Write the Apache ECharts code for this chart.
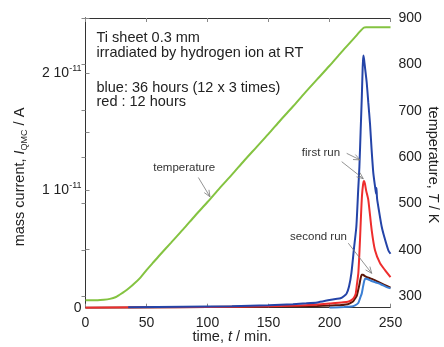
<!DOCTYPE html>
<html><head><meta charset="utf-8">
<script src="https://cdn.jsdelivr.net/npm/echarts@6/dist/echarts.min.js"></script>
<style>html,body{margin:0;padding:0;background:#fff}#c{width:444px;height:347px}</style>
</head><body><div id="c"></div>
<script>
const FONT = '"Liberation Sans", Arial, Helvetica, sans-serif';

// ---- data (current in units of 1e-11 A) ----
const timeTicks = [0, 50, 100, 150, 200, 250];
const currentTicks = [0, 1, 2];
const tempTicks = [300, 400, 500, 600, 700, 800, 900];

const tempTime = [0, 10, 15, 20, 25, 28, 32, 36, 40, 45, 50, 55, 60, 70, 80, 90, 100, 110, 120, 130, 140, 150, 160, 170, 180, 190, 200, 210, 220, 225, 228, 230, 240, 250];
const tempK    = [291, 291, 292, 294, 298, 303, 310, 318, 327, 340, 356, 371, 386, 415, 444, 474, 503, 533, 562, 592, 621, 650, 680, 709, 739, 768, 797, 827, 856, 871, 879, 880, 880, 880];

const blue1Time = [35, 80, 120, 150, 170, 181, 190, 200, 205, 209, 212, 214, 216, 218, 220, 222, 223.5, 224.5, 225.5, 226.5, 227.2, 227.7, 228.3, 229.3, 230.5, 231.8, 233.2, 234.5, 235.9, 237.5, 238.2, 238.5, 239, 240.5, 242.8, 245, 248.2, 250];
const blue1Cur  = [0.003, 0.008, 0.012, 0.02, 0.03, 0.037, 0.045, 0.066, 0.075, 0.08, 0.1, 0.12, 0.18, 0.3, 0.5, 0.69, 1.0, 1.2, 1.5, 1.8, 2.05, 2.15, 2.12, 2.03, 1.92, 1.75, 1.57, 1.35, 1.15, 1.02, 0.97, 1.02, 0.93, 0.83, 0.69, 0.6, 0.49, 0.46];

const red1Time = [0, 50, 100, 150, 180, 200, 210, 215, 218, 220, 221.5, 222.5, 223.6, 224.3, 225, 225.8, 226.6, 227.5, 228.3, 229, 230, 231.8, 234.6, 237.3, 241.4, 245.5, 250];
const red1Cur  = [0, 0.003, 0.006, 0.012, 0.02, 0.035, 0.045, 0.05, 0.065, 0.085, 0.12, 0.2, 0.29, 0.42, 0.58, 0.78, 0.95, 1.05, 1.08, 1.06, 1.0, 0.92, 0.66, 0.49, 0.38, 0.32, 0.26];

const red2Time = [0, 100, 150, 190, 205, 215, 219, 221, 222.3, 223.5, 224.4, 225.3, 226.4, 227.5, 229, 232, 236, 240, 245, 250];
const red2Cur  = [0, 0.005, 0.01, 0.015, 0.02, 0.03, 0.05, 0.08, 0.1, 0.15, 0.19, 0.24, 0.28, 0.28, 0.27, 0.255, 0.24, 0.22, 0.195, 0.17];

const blue2Time = [200, 212, 218, 221, 223.6, 225, 226.4, 227.5, 228.5, 229.4, 231, 234, 238, 242, 246, 250];
const blue2Cur  = [0, 0.005, 0.01, 0.02, 0.04, 0.08, 0.12, 0.18, 0.23, 0.25, 0.245, 0.23, 0.215, 0.2, 0.18, 0.165];

const zip = (a, b) => a.map((v, i) => [v, b[i]]);

const chart = echarts.init(document.getElementById('c'), null, {renderer: 'canvas'});
const axisColor = '#333';
const labelStyle = {color: '#222', fontFamily: FONT, fontSize: 14};

const option = {
  animation: false,
  backgroundColor: '#fff',
  grid: {left: 85.5, right: 53.5, top: 18, bottom: 39.3, containLabel: false},
  xAxis: [
    {type: 'value', min: 0, max: 250, interval: 50, position: 'bottom',
     axisLine: {show: true, lineStyle: {color: axisColor, width: 1}},
     axisTick: {show: true, inside: true, length: 4, lineStyle: {color: '#888'}},
     axisLabel: Object.assign({margin: 8, customValues: timeTicks}, labelStyle),
     splitLine: {show: false}},
    {type: 'value', min: 0, max: 250, interval: 50, position: 'top',
     axisLine: {show: true, lineStyle: {color: axisColor, width: 1}},
     axisTick: {show: true, inside: true, length: 4, lineStyle: {color: '#888'}},
     axisLabel: {show: false}, splitLine: {show: false}}
  ],
  yAxis: [
    {type: 'value', min: 0, max: 2.47, interval: 0.5, position: 'left',
     axisLine: {show: true, lineStyle: {color: axisColor, width: 1}},
     axisTick: {show: true, inside: true, length: 4, lineStyle: {color: '#888'}},
     axisLabel: {show: true, margin: 4, customValues: currentTicks,
       formatter: v => v === 0 ? '{b|0}' : '{b|' + v + ' 10}{s|-11}',
       rich: {b: {fontSize: 14, fontFamily: FONT, color: '#222', lineHeight: 18},
              s: {fontSize: 9, fontFamily: FONT, color: '#222', verticalAlign: 'top', lineHeight: 10}}},
     splitLine: {show: false}},
    {type: 'value', min: 275, max: 900, position: 'right',
     axisLine: {show: true, lineStyle: {color: axisColor, width: 1}},
     axisTick: {show: true, inside: true, length: 4, customValues: tempTicks, lineStyle: {color: '#888'}},
     axisLabel: Object.assign({margin: 8, customValues: tempTicks}, labelStyle),
     splitLine: {show: false}}
  ],
  series: [
    {type: 'line', name: 'temperature', xAxisIndex: 0, yAxisIndex: 1, data: zip(tempTime, tempK), showSymbol: false, smooth: 0.3,
     lineStyle: {color: '#84c341', width: 2}, z: 2},
    {type: 'line', name: 'red2', data: zip(red2Time, red2Cur), showSymbol: false, smooth: 0.2,
     lineStyle: {color: '#5b1608', width: 2}, z: 3},
    {type: 'line', name: 'blue2', data: zip(blue2Time, blue2Cur), showSymbol: false, smooth: 0.2,
     lineStyle: {color: '#3b7fd4', width: 2}, z: 3},
    {type: 'line', name: 'red1', data: zip(red1Time, red1Cur), showSymbol: false, smooth: 0.2,
     lineStyle: {color: '#ee2d2d', width: 2}, z: 4},
    {type: 'line', name: 'blue1', data: zip(blue1Time, blue1Cur), showSymbol: false, smooth: 0.2,
     lineStyle: {color: '#2444a8', width: 2}, z: 5}
  ]
};
chart.setOption(option);

// annotations in data coordinates (time, current)
const arrowDefs = [
  {from: [92.5, 1.11], to: [102, 0.946]},
  {from: [214.1, 1.316], to: [225, 1.26]},
  {from: [210, 1.245], to: [227.7, 1.10]},
  {from: [215.4, 0.55], to: [234.6, 0.293]}
];
const noteDefs = [
  {text: 'temperature', at: [55.5, 1.19]},
  {text: 'first run', at: [177.3, 1.32]},
  {text: 'second run', at: [167.7, 0.605]}
];
const px = p => chart.convertToPixel({xAxisIndex: 0, yAxisIndex: 0}, p);
const graphics = [];
arrowDefs.forEach(a => {
  const p1 = px(a.from), p2 = px(a.to);
  const ang = Math.atan2(p2[1] - p1[1], p2[0] - p1[0]);
  const L = 7, w = 0.4;
  const h1 = [p2[0] - L * Math.cos(ang - w), p2[1] - L * Math.sin(ang - w)];
  const h2 = [p2[0] - L * Math.cos(ang + w), p2[1] - L * Math.sin(ang + w)];
  graphics.push({type: 'polyline', shape: {points: [p1, p2]}, style: {stroke: '#777', lineWidth: 0.8, fill: null}, z: 20});
  graphics.push({type: 'polyline', shape: {points: [h1, p2, h2]}, style: {stroke: '#777', lineWidth: 0.8, fill: null}, z: 20});
});
noteDefs.forEach(n => {
  const p = px(n.at);
  graphics.push({type: 'text', x: p[0], y: p[1], style: {text: n.text, fontSize: 11.5, fontFamily: FONT, fill: '#333', align: 'left', verticalAlign: 'middle'}, z: 20});
});
const info = [
  ['Ti sheet 0.3 mm', 38.3],
  ['irradiated by hydrogen ion at RT', 53.3],
  ['blue: 36 hours (12 x 3 times)', 88.3],
  ['red : 12 hours', 101.7]
];
info.forEach(r => graphics.push({type: 'text', x: 96.5, y: r[1], style: {text: r[0], fontSize: 14.5, fontFamily: FONT, fill: '#222', align: 'left', verticalAlign: 'middle'}, z: 20}));
// axis titles
graphics.push({type: 'text', x: 20, y: 177, rotation: Math.PI / 2,
  style: {text: '{a|mass current, }{i|I}{s|QMC}{a| / A}', align: 'center', verticalAlign: 'middle',
    rich: {a: {fontSize: 14.5, fontFamily: FONT, fill: '#222', lineHeight: 18},
           i: {fontSize: 14.5, fontFamily: FONT, fontStyle: 'italic', fill: '#222', lineHeight: 18},
           s: {fontSize: 9, fontFamily: FONT, fill: '#222', verticalAlign: 'bottom', lineHeight: 10}}}});
graphics.push({type: 'text', x: 433, y: 165, rotation: -Math.PI / 2,
  style: {text: '{a|temperature, }{i|T}{a| / K}', align: 'center', verticalAlign: 'middle',
    rich: {a: {fontSize: 14.5, fontFamily: FONT, fill: '#222'},
           i: {fontSize: 14.5, fontFamily: FONT, fontStyle: 'italic', fill: '#222'}}}});
graphics.push({type: 'text', x: 232, y: 337,
  style: {text: '{a|time, }{i|t}{a| / min.}', align: 'center', verticalAlign: 'middle',
    rich: {a: {fontSize: 14.5, fontFamily: FONT, fill: '#222'},
           i: {fontSize: 14.5, fontFamily: FONT, fontStyle: 'italic', fill: '#222'}}}});
chart.setOption({graphic: graphics});
</script></body></html>
